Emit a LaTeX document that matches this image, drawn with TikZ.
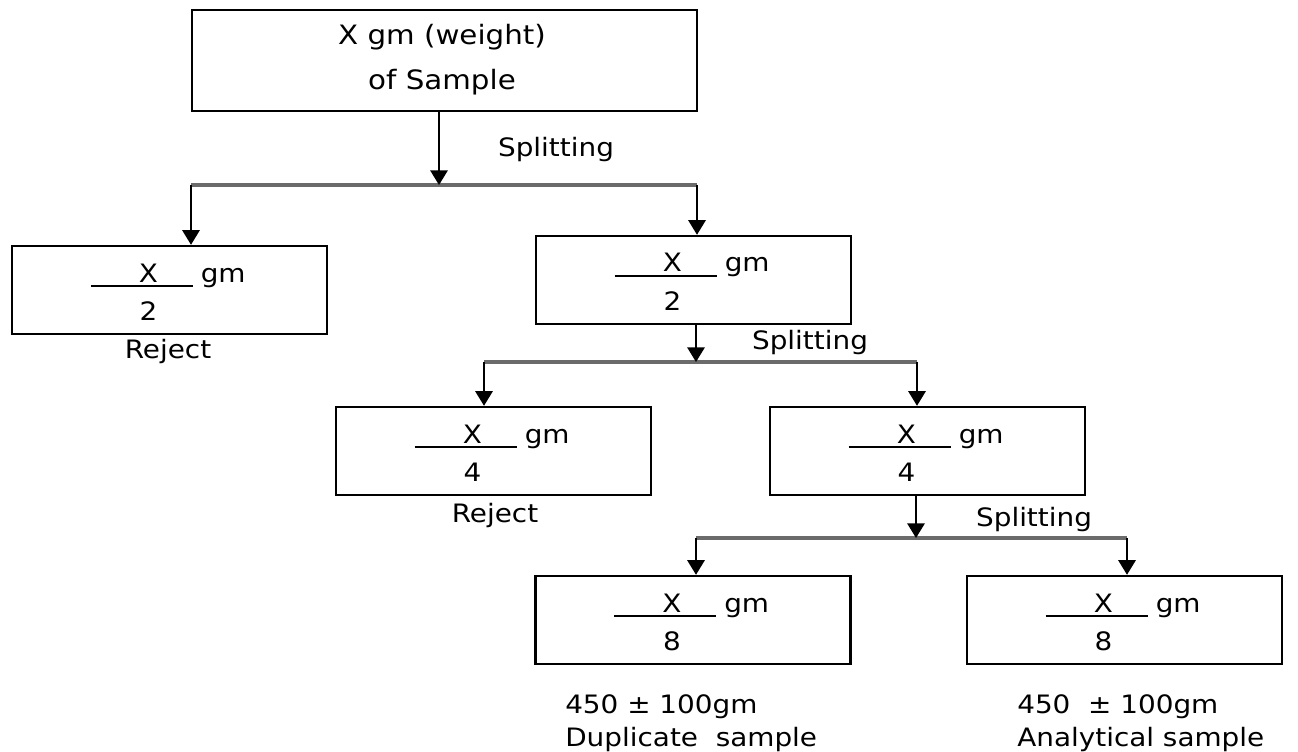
\documentclass[tikz,border=0pt]{standalone}
\usepackage{fontspec}
\setmainfont[FakeStretch=1.1]{DejaVu Sans}
\usetikzlibrary{arrows.meta,calc}
\newcommand\fracgm[2]{%
  \node[txt,anchor=base] (#1x) at ($(#1.center)+(-21,-8)$) {X};
  \node[txt,anchor=base west] (#1g) at ($(#1.center)+(31,-8)$) {gm};
  \node[txt,anchor=base] (#1d) at ($(#1.center)+(-21,30)$) {#2};
  \draw[fl] ($(#1.center)+(-79,-4)$) -- ($(#1.center)+(23,-4)$);
}
\begin{document}
\begin{tikzpicture}[x=0.75pt,y=-0.75pt,
  box/.style={draw=black,line width=1.8pt,inner sep=0pt,minimum width=236.25pt,minimum height=66pt},
  txt/.style={font=\fontsize{19}{22}\selectfont,inner sep=0pt},
  arr/.style={line width=1.5pt,-{Triangle[width=13pt,length=11pt]}},
  bus/.style={line width=2.4pt,draw=black!58},
  fl/.style={line width=1.3pt}]
\useasboundingbox (0,0) rectangle (1298,752);
\fill[white] (0,0) rectangle (1298,752);

% boxes
\node[box,minimum width=378.75pt,minimum height=75.75pt] (top) at (444.5,60.5) {};
\node[txt,font=\fontsize{20}{22}\selectfont] (t1) at (442,37) {X gm (weight)};
\node[txt,font=\fontsize{20}{22}\selectfont] (t2) at (442,82) {of Sample};
\node[box] (b2L) at (169.5,290) {};
\node[box] (b2R) at (693.5,280) {};
\node[box] (b4L) at (493.5,451) {};
\node[box] (b4R) at (927.5,451) {};
\node[box] (b8L) at (693,620) {};
\node[box] (b8R) at (1124.5,620) {};

\fracgm{b2L}{2}
\fracgm{b2R}{2}
\fracgm{b4L}{4}
\fracgm{b4R}{4}
\fracgm{b8L}{8}
\fracgm{b8R}{8}

% labels
\node[txt] (sp1) at (556,150) {Splitting};
\node[txt] (sp2) at (810,343) {Splitting};
\node[txt] (sp3) at (1034,520) {Splitting};
\node[txt] (rj1) at (168,352) {Reject};
\node[txt] (rj2) at (495,516) {Reject};
\node[txt,anchor=west,align=left,font=\fontsize{19}{25}\selectfont] (dup) at (565,723.5) {450 ± 100gm\\Duplicate\ \ sample};
\node[txt,anchor=west,align=left,font=\fontsize{19}{25}\selectfont] (ana) at (1017,723.5) {450 \ ± 100gm\\Analytical sample};

% split 1
\coordinate (s1) at (439,185);
\coordinate (l1) at (191,185);
\coordinate (r1) at (697,185);
\draw[bus] (l1) -- (r1);
\draw[arr] (s1 |- top.south) -- (s1);
\draw[arr] (l1) -- (l1 |- b2L.north);
\draw[arr] (r1) -- (r1 |- b2R.north);

% split 2
\coordinate (s2) at (696,362);
\coordinate (l2) at (484,362);
\coordinate (r2) at (917,362);
\draw[bus] (l2) -- (r2);
\draw[arr] (s2 |- b2R.south) -- (s2);
\draw[arr] (l2) -- (l2 |- b4L.north);
\draw[arr] (r2) -- (r2 |- b4R.north);

% split 3
\coordinate (s3) at (916,538);
\coordinate (l3) at (696,538);
\coordinate (r3) at (1127,538);
\draw[bus] (l3) -- (r3);
\draw[arr] (s3 |- b4R.south) -- (s3);
\draw[arr] (l3) -- (l3 |- b8L.north);
\draw[arr] (r3) -- (r3 |- b8R.north);
\end{tikzpicture}
\end{document}
